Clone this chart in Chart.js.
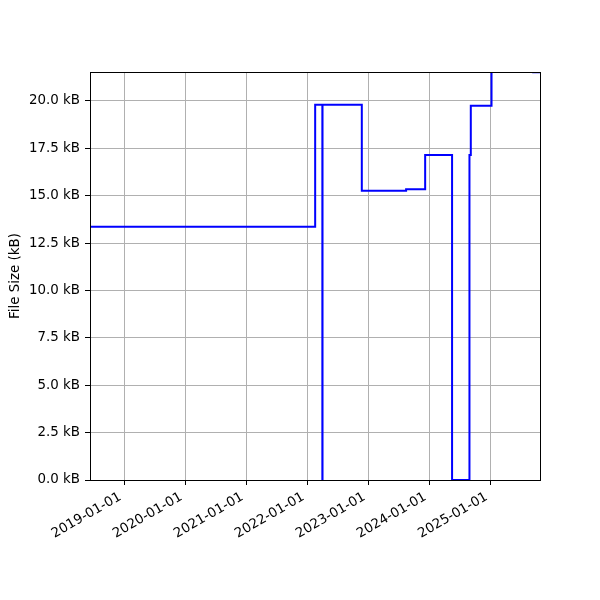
<!DOCTYPE html>
<html>
<head>
<meta charset="utf-8">
<script src="https://cdn.jsdelivr.net/npm/chart.js@4/dist/chart.umd.min.js"></script>
<style>
  body { margin: 0; background: #fff; }
  #wrap { width: 600px; height: 600px; position: relative; }
</style>
</head>
<body>
<div id="wrap"><canvas id="sizeChart"></canvas></div>
<script>
// dates where the file size changed, and the new size (kB)
const changeDates = ['2018-06-01', '2022-02-16', '2022-03-31', '2022-04-01', '2022-11-22', '2023-08-14',
  '2023-12-06', '2024-05-15', '2024-08-27', '2024-09-04', '2025-01-06', '2025-09-12', '2025-10-30'];
const fileSizesKB = [13.37, 19.8, 0, 19.8, 15.27, 15.34, 17.15, 0, 17.15, 19.75, 24.0, 21.52, 21.52];
const tickYears = [2019, 2020, 2021, 2022, 2023, 2024, 2025];
const yTicksKB = [0, 2.5, 5, 7.5, 10, 12.5, 15, 17.5, 20];

const xMin = Date.UTC(2018, 5, 10);
const xMax = Date.UTC(2025, 9, 23);
const yMax = 21.53;

Chart.defaults.font.family = "'DejaVu Sans', sans-serif";
Chart.defaults.font.size = 13.4;
Chart.defaults.color = '#000';

const points = changeDates.map((d, i) => ({ x: Date.parse(d + 'T00:00:00Z'), y: fileSizesKB[i] }));

// black frame round the plot area, like matplotlib spines
const framePlugin = {
  id: 'frame',
  afterDatasetsDraw(chart) {
    const a = chart.chartArea;
    const ctx = chart.ctx;
    ctx.save();
    ctx.strokeStyle = '#000';
    ctx.lineWidth = 1;
    ctx.strokeRect(Math.round(a.left) + 0.5, Math.round(a.top) + 0.5, Math.round(a.right - a.left), Math.round(a.bottom - a.top));
    ctx.restore();
  }
};

new Chart(document.getElementById('sizeChart'), {
  type: 'line',
  data: {
    datasets: [{
      data: points,
      borderColor: '#0000ff',
      borderWidth: 2,
      pointRadius: 0,
      stepped: 'before',
      fill: false
    }]
  },
  options: {
    responsive: true,
    maintainAspectRatio: false,
    animation: false,
    layout: { padding: { top: 72, right: 60, left: 0, bottom: 0 } },
    plugins: {
      legend: { display: false },
      tooltip: { enabled: false }
    },
    scales: {
      x: {
        type: 'linear',
        min: xMin,
        max: xMax,
        afterBuildTicks: scale => {
          scale.ticks = tickYears.map(y => ({ value: Date.UTC(y, 0, 1) }));
        },
        afterFit: scale => { scale.height = 120; },
        ticks: {
          autoSkip: false,
          minRotation: 30,
          maxRotation: 30,
          padding: 4,
          labelOffset: -4,
          callback: v => new Date(v).toISOString().slice(0, 10)
        },
        grid: { color: '#b0b0b0', lineWidth: 1, tickColor: '#000', tickLength: 5 },
        border: { display: false }
      },
      y: {
        min: 0,
        max: yMax,
        afterBuildTicks: scale => {
          scale.ticks = yTicksKB.map(v => ({ value: v }));
        },
        afterFit: scale => { scale.width = 90; },
        ticks: {
          padding: 5,
          callback: v => v.toFixed(1) + ' kB'
        },
        title: {
          display: true,
          text: 'File Size (kB)',
          padding: { top: 7, bottom: 0 }
        },
        grid: { color: '#b0b0b0', lineWidth: 1, tickColor: '#000', tickLength: 5 },
        border: { display: false }
      }
    }
  },
  plugins: [framePlugin]
});
</script>
</body>
</html>
